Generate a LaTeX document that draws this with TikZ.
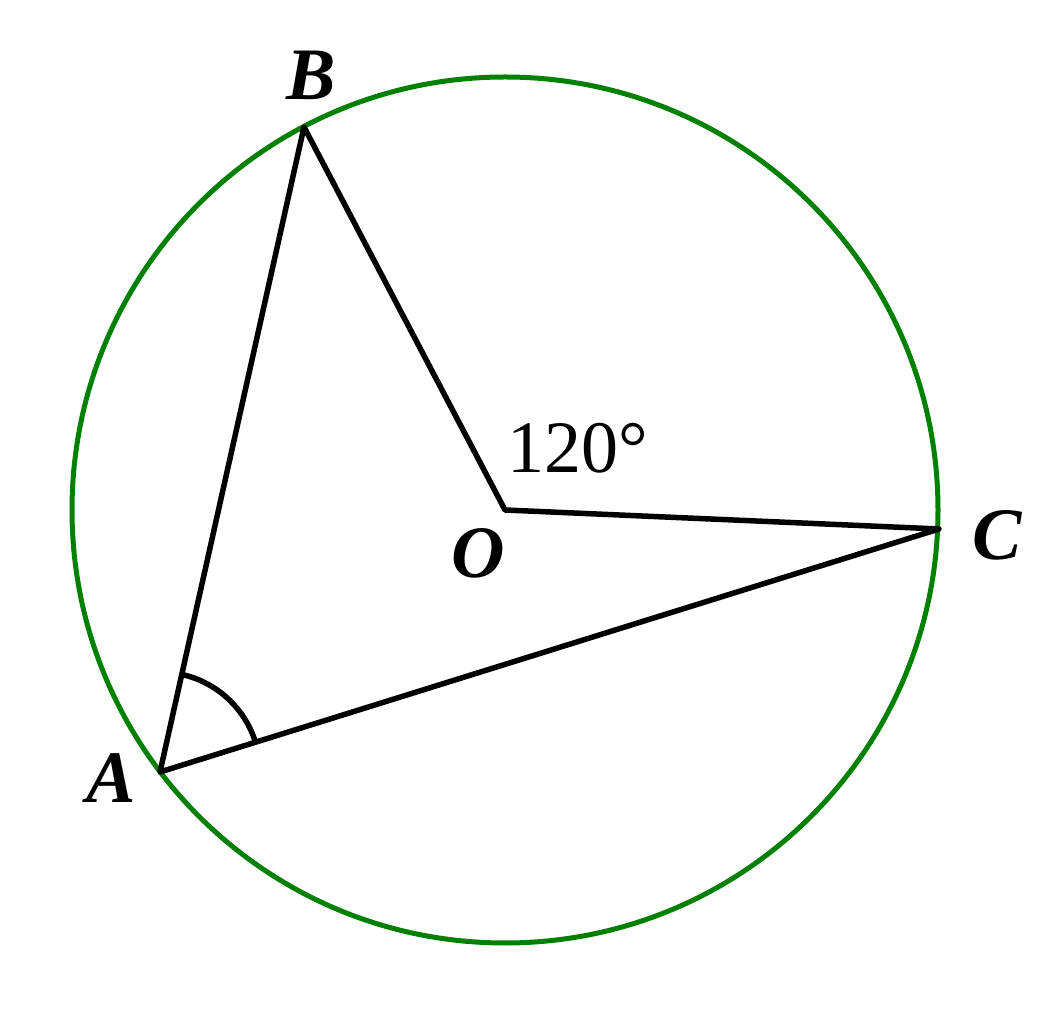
\documentclass[tikz,border=0pt]{standalone}
\usepackage{fontspec}
\setmainfont{Liberation Serif}
\usetikzlibrary{calc}
\definecolor{circgreen}{RGB}{0,128,0}
\begin{document}
\begin{tikzpicture}[x=1pt,y=1pt,
  seg/.style={draw=black,line width=5.5pt,line join=round},
  ptlabel/.style={inner sep=0pt,font=\fontsize{74}{80}\selectfont\bfseries\itshape},
  anglabel/.style={inner sep=0pt,font=\fontsize{74}{80}\selectfont}]
\useasboundingbox (0,0) rectangle (1050,1010);
\coordinate (Oc) at (505,500);
\draw[circgreen,line width=5pt] (Oc) circle[radius=433];
\coordinate (A) at (160,238);
\coordinate (B) at (304,883);
\coordinate (C) at (939,481);
\coordinate (O) at (505,500);
\draw[seg] (B) -- (O) -- (C) -- (A) -- cycle;
\draw[seg] let \p1=($(C)-(A)$), \p2=($(B)-(A)$), \n1={atan2(\y1,\x1)}, \n2={atan2(\y2,\x2)} in
  ($(A)!100pt!(C)$) arc[start angle=\n1, end angle=\n2, radius=100pt];
\node[ptlabel] (lB) at (311,935) {B};
\node[ptlabel] (lO) at (478,457) {O};
\node[ptlabel] (lC) at (997,475) {C};
\node[ptlabel] (lA) at (111,232) {A};
\node[anglabel] (ang) at (578,562) {120°};
\end{tikzpicture}
\end{document}
